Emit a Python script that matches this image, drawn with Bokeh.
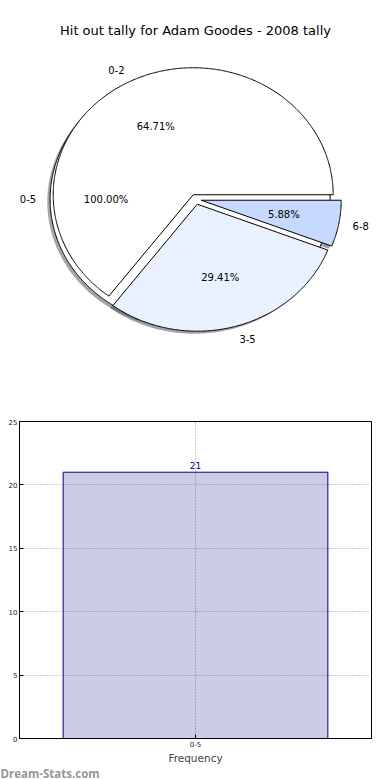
import numpy as np
from bokeh.plotting import figure
from bokeh.models import Range1d, FactorRange, Label
from bokeh.layouts import column
from bokeh.embed import file_html
from bokeh.resources import INLINE
from bokeh.core.properties import value

# ---------------- data ----------------
title_text = "Hit out tally for Adam Goodes - 2008 tally"
total_labels = ["0-5"]
total_values = [21]
total_colors = ["#ffffff"]
pie_labels = ["0-2", "3-5", "6-8"]
pie_values = [11, 5, 1]
pie_colors = ["#ffffff", "#eaf1fe", "#c6d9fe"]
bar_categories = ["0-5"]
bar_values = [21]
y_ticks = [0, 5, 10, 15, 20, 25]
x_axis_label = "Frequency"
y_axis_label = "Occurrences"
watermark = "Dream-Stats.com"

FONT = value("DejaVu Sans")
EXPLODE = 0.04
SHADOW = 0.02


def build_wedges(values, explode):
    total = float(sum(values))
    out = []
    start = 0.0
    for v in values:
        frac = v / total
        end = start + 2 * np.pi * frac
        mid = (start + end) / 2
        cx, cy = explode * np.cos(mid), explode * np.sin(mid)
        t = np.linspace(start, end, max(int(frac * 720), 12))
        xs = cx + np.cos(t)
        ys = cy + np.sin(t)
        if frac < 0.9999:
            xs = np.concatenate([[cx], xs, [cx]])
            ys = np.concatenate([[cy], ys, [cy]])
        out.append(dict(xs=list(xs), ys=list(ys), mid=mid, cx=cx, cy=cy, pct=100 * frac))
        start = end
    return out


def shade(hexcol):
    h = hexcol.lstrip("#")
    r, g, b = (int(h[i:i + 2], 16) for i in (0, 2, 4))
    return "#%02x%02x%02x" % (int(r * 0.3), int(g * 0.3), int(b * 0.3))


wa = build_wedges(total_values, EXPLODE)
wb = build_wedges(pie_values, EXPLODE)

# ---------------- pie figure ----------------
W, H1 = 390, 388
rx, ry = 140.0, 127.0
cxp, cyp = 195.2, 198.8
p1 = figure(width=W, height=H1, output_backend="svg", toolbar_location=None,
            x_range=Range1d(-cxp / rx, (W - cxp) / rx),
            y_range=Range1d(-(H1 - cyp) / ry, cyp / ry),
            x_axis_type=None, y_axis_type=None, min_border=0)
p1.frame_align = False
p1.outline_line_color = None
p1.background_fill_color = "white"
p1.border_fill_color = "white"

# shadows (below all wedges)
for wedges, cols in ((wa, total_colors), (wb, pie_colors)):
    p1.patches(xs=[[x - SHADOW for x in w["xs"]] for w in wedges],
               ys=[[y - SHADOW for y in w["ys"]] for w in wedges],
               fill_color=[shade(c) for c in cols], fill_alpha=0.5, line_color=None)

# wedges
for wedges, cols in ((wa, total_colors), (wb, pie_colors)):
    p1.patches(xs=[w["xs"] for w in wedges], ys=[w["ys"] for w in wedges],
               fill_color=cols, line_color="black", line_width=1)

# labels
all_w = wa + wb
all_l = total_labels + pie_labels
lx_r, ly_r, lt_r, lx_l, ly_l, lt_l = [], [], [], [], [], []
px, py, pt = [], [], []
for w, lab in zip(all_w, all_l):
    x = w["cx"] + 1.1 * np.cos(w["mid"])
    y = w["cy"] + 1.1 * np.sin(w["mid"])
    if x - w["cx"] < 0:
        lx_r.append(x); ly_r.append(y); lt_r.append(lab)
    else:
        lx_l.append(x); ly_l.append(y); lt_l.append(lab)
    px.append(w["cx"] + 0.6 * np.cos(w["mid"]))
    py.append(w["cy"] + 0.6 * np.sin(w["mid"]))
    pt.append("%.2f%%" % w["pct"])

common = dict(text_font=FONT, text_font_size="10px", text_color="black", text_baseline="middle")
p1.text(x=lx_r, y=ly_r, text=lt_r, text_align="right", **common)
p1.text(x=lx_l, y=ly_l, text=lt_l, text_align="left", **common)
p1.text(x=px, y=py, text=pt, text_align="center", **common)

p1.add_layout(Label(x=195, y=H1 - 30, x_units="screen", y_units="screen", text=title_text,
                    text_font="DejaVu Sans", text_font_size="13px", text_align="center",
                    text_baseline="middle", text_color="black"))

# ---------------- bar figure ----------------
H2 = 378
p2 = figure(width=W, height=H2, output_backend="svg", toolbar_location=None,
            x_range=FactorRange(factors=bar_categories, range_padding=0),
            y_range=Range1d(0, 25),
            min_border_left=19, min_border_right=19, min_border_top=33, min_border_bottom=26)
p2.frame_align = False
p2.background_fill_color = "white"
p2.border_fill_color = "white"
p2.outline_line_color = "black"
p2.outline_line_width = 1
p2.outline_line_alpha = 1

p2.vbar(x=bar_categories, top=bar_values, width=0.752, fill_color="navy", fill_alpha=0.2,
        line_color="navy", line_width=1)
p2.text(x=bar_categories, y=bar_values, text=[str(v) for v in bar_values], text_align="center",
        text_baseline="bottom", y_offset=-3, text_font=FONT, text_font_size="9px", text_color="navy")

p2.yaxis.ticker = y_ticks
for ax in (p2.xaxis, p2.yaxis):
    ax.major_tick_in = 4
    ax.major_tick_out = 0
    ax.minor_tick_line_color = None
    ax.major_label_standoff = 2
    ax.major_label_text_font = "DejaVu Sans"
    ax.major_label_text_font_size = "7px"
    ax.major_label_text_color = "#222222"
    ax.axis_line_color = "black"
    ax.major_tick_line_color = "black"
p2.xaxis.axis_label = x_axis_label
p2.xaxis.axis_label_text_font = "DejaVu Sans"
p2.xaxis.axis_label_text_font_style = "normal"
p2.xaxis.axis_label_text_font_size = "10.5px"
p2.xaxis.axis_label_standoff = 2
for g in (p2.xgrid, p2.ygrid):
    g.grid_line_color = "#999999"
    g.grid_line_dash = "1 2"
    g.grid_line_width = 1

# y-axis title squeezed into the narrow left margin
p2.add_layout(Label(x=-12.5, y=352 - (581 - H1), x_units="screen", y_units="screen",
                    text=y_axis_label, angle=np.pi / 2, text_font="DejaVu Sans",
                    text_font_size="7.5px", text_align="center", text_baseline="alphabetic",
                    text_color="#222222"))

# ---------------- watermark strip ----------------
H3 = 14
p3 = figure(width=W, height=H3, output_backend="svg", toolbar_location=None,
            x_range=Range1d(0, W), y_range=Range1d(0, H3),
            x_axis_type=None, y_axis_type=None, min_border=0)
p3.frame_align = False
p3.outline_line_color = None
p3.background_fill_color = "white"
p3.border_fill_color = "white"
p3.text(x=[0], y=[H3 / 2], text=[watermark], text_font=value("Open Sans"), text_font_size="11.5px",
        text_font_style="bold", text_color="#969696", text_align="left", text_baseline="middle")

layout = column(p1, p2, p3, spacing=0)
open("out.html", "w").write(file_html(layout, INLINE))
